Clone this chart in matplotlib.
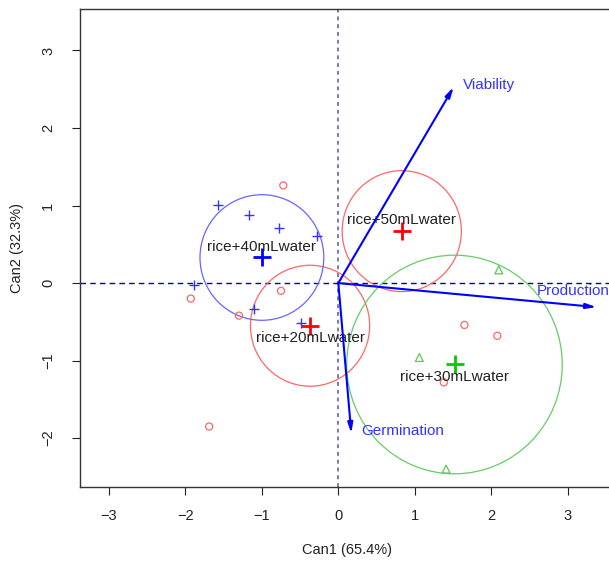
import numpy as np
import matplotlib
matplotlib.use('Agg')
from matplotlib import pyplot as plt
from matplotlib.patches import Circle

plt.rcParams['font.family'] = ['Liberation Sans', 'DejaVu Sans']

# 観測値 (Can1, Can2)
blue_x = [-1.57, -1.17, -0.77, -0.28, -1.89, -1.10, -0.49]
blue_y = [1.01, 0.88, 0.71, 0.61, -0.03, -0.34, -0.52]
red_x = [-0.72, -1.93, -1.30, -0.75, -1.69, 1.65, 2.08, 1.38]
red_y = [1.26, -0.20, -0.42, -0.10, -1.85, -0.54, -0.68, -1.28]
green_x = [2.10, 1.06, 1.41]
green_y = [0.17, -0.96, -2.40]

# 群の重心と円
groups = ['rice+20mLwater', 'rice+30mLwater', 'rice+40mLwater', 'rice+50mLwater']
cent_x = [-0.37, 1.52, -1.00, 0.83]
cent_y = [-0.55, -1.05, 0.33, 0.67]
radius = [0.78, 1.41, 0.81, 0.78]
group_cols = ['#ff0000', '#00cc00', '#0000ff', '#ff0000']
circle_cols = ['#ff6666', '#66cc66', '#6666ff', '#ff6666']

# 構造ベクトル
vars_ = ['Viability', 'Production', 'Germination']
vec_x = [1.51, 3.38, 0.17]
vec_y = [2.53, -0.31, -1.94]

fig = plt.figure(figsize=(6.09, 5.62), dpi=100)
ax = fig.add_axes([80 / 609, 75 / 562, 535 / 609, 478 / 562])
ax.set_xlim(-3.38, 3.62)
ax.set_ylim(-2.63, 3.535)

ax.axvline(0, color='#7a7ab8', ls=(0, (2, 2)), lw=1.4, zorder=1)
ax.axhline(0, color='#0000aa', ls=(0, (4, 3)), lw=1.0, zorder=1)

ax.scatter(blue_x, blue_y, marker='+', s=55, color='#3333ff', lw=1.0, zorder=3)
ax.scatter(red_x, red_y, marker='o', s=26, facecolors='none', edgecolors='#ff6666', lw=0.9, zorder=3)
ax.scatter(green_x, green_y, marker='^', s=32, facecolors='none', edgecolors='#55cc55', lw=0.9, zorder=3)

for i, g in enumerate(groups):
    ax.add_patch(Circle((cent_x[i], cent_y[i]), radius[i], fill=False,
                        ec=circle_cols[i], lw=0.9, zorder=2))
    ax.scatter(cent_x[i], cent_y[i], marker='+', s=150, color=group_cols[i], lw=2.0, zorder=4)
    if cent_y[i] > 0:
        ax.text(cent_x[i], cent_y[i] + 0.05, g, ha='center', va='bottom', fontsize=11, color='#222222', zorder=5)
    else:
        ax.text(cent_x[i], cent_y[i] - 0.07, g, ha='center', va='top', fontsize=11, color='#222222', zorder=5)

for i, v in enumerate(vars_):
    ax.annotate('', xy=(vec_x[i], vec_y[i]), xytext=(0, 0),
                arrowprops=dict(arrowstyle='-|>,head_length=0.6,head_width=0.15',
                                color='#0000ff', lw=1.5, shrinkA=0, shrinkB=0), zorder=5)
ax.text(1.63, 2.55, vars_[0], color='#3333ff', fontsize=11, va='center', ha='left')
ax.text(2.60, -0.10, vars_[1], color='#3333ff', fontsize=11, va='center', ha='left')
ax.text(0.30, -1.91, vars_[2], color='#3333ff', fontsize=11, va='center', ha='left')

ax.set_xticks([-3, -2, -1, 0, 1, 2, 3])
ax.set_yticks([-2, -1, 0, 1, 2, 3])
ax.set_yticklabels(['\u22122', '\u22121', '0', '1', '2', '3'], rotation=90, va='center')
ax.tick_params(length=6, width=0.8, labelsize=10.5, colors='#222222', pad=10)
ax.tick_params(axis='y', pad=12)
for sp in ax.spines.values():
    sp.set_color('#333333')
    sp.set_linewidth(1.0)
ax.set_xlabel('Can1 (65.4%)', fontsize=10.5, color='#222222', labelpad=14)
ax.set_ylabel('Can2 (32.3%)', fontsize=10.5, color='#222222', labelpad=12)

fig.savefig('out.png', dpi=100)
